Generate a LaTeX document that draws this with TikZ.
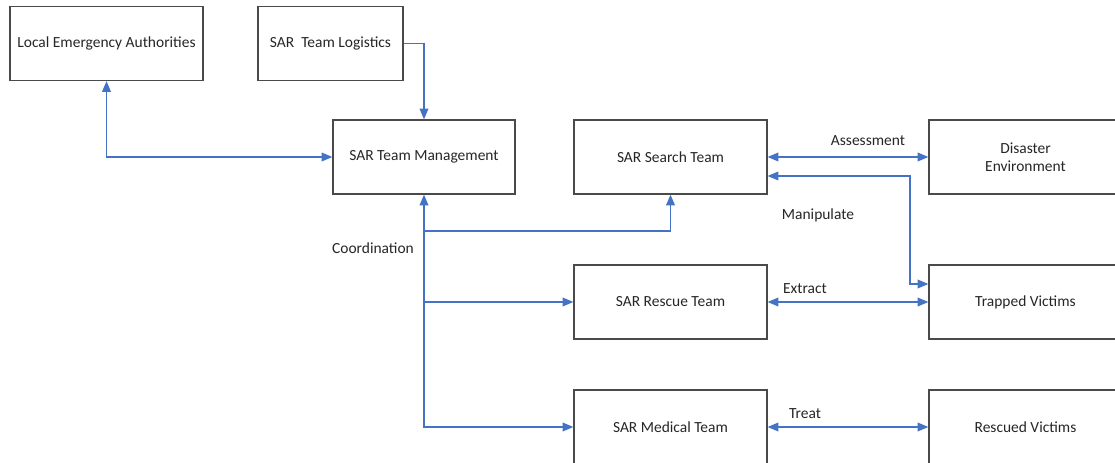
\documentclass[tikz,border=0pt]{standalone}
\usepackage{fontspec}
\setmainfont{Carlito}
\usetikzlibrary{arrows.meta,calc}
\definecolor{linkblue}{HTML}{4472C4}
\definecolor{boxgray}{HTML}{4A4A4A}
\definecolor{txt}{HTML}{262626}
\begin{document}
\begin{tikzpicture}[x=0.75pt,y=-0.75pt,
  unit/.style={draw=boxgray, line width=0.95pt, minimum width=144.75pt,
    minimum height=55.5pt, inner sep=0pt, align=center, text=txt,
    font=\fontsize{11.6}{13.8}\selectfont},
  lbl/.style={inner sep=0pt, text=txt, font=\fontsize{11.6}{13.8}\selectfont},
  link/.style={draw=linkblue, line width=0.95pt,
    >={Triangle[length=8pt,width=6.5pt]}}]
  \useasboundingbox (0,0) rectangle (1115,463);
  \clip (0,0) rectangle (1115,463);

  % organisation boxes
  \node[unit] (local) at (106.5,43.5) {Local Emergency Authorities};
  \node[unit, minimum width=108.75pt] (logi) at (330.5,43.5) {SAR~~Team Logistics};
  \node[unit, minimum width=136.5pt] (mgmt) at (424,157) {SAR Team Management};
  \node[unit] (search) at (670.5,157) {SAR Search Team};
  \node[unit] (rescue) at (670.5,302) {SAR Rescue Team};
  \node[unit] (med) at (670.5,427) {SAR Medical Team};

  % field side
  \node[unit] (disaster) at (1025.5,157) {Disaster\\Environment};
  \node[unit] (trapped) at (1025.5,302) {Trapped Victims};
  \node[unit] (rescued) at (1025.5,427) {Rescued Victims};

  % command links
  \draw[link,<->] (local.south) |- (mgmt.west);
  \draw[link,->] (logi.east) -| (mgmt.north);

  % coordination trunk and branches
  \draw[link,<->] (mgmt.south) |- (med.west);
  \draw[link,->] (mgmt.south |- rescue.west) -- (rescue.west);
  \coordinate (tap) at (424,231);
  \draw[link,->] (tap) -| (search.south);

  % field interactions
  \draw[link,<->] (search.east) -- (disaster.west);
  \coordinate (turn) at (910,176);
  \draw[link,<->] ($(search.east)+(0,19)$) -- (turn) |- ($(trapped.west)+(0,-18)$);
  \draw[link,<->] (rescue.east) -- (trapped.west);
  \draw[link,<->] (med.east) -- (rescued.west);

  % labels
  \node[lbl] (lcoord) at (373,248) {Coordination};
  \node[lbl] (lassess) at (868,141) {Assessment};
  \node[lbl] (lmanip) at (818,215) {Manipulate};
  \node[lbl] (lextract) at (805,289) {Extract};
  \node[lbl] (ltreat) at (805,414) {Treat};
\end{tikzpicture}
\end{document}
